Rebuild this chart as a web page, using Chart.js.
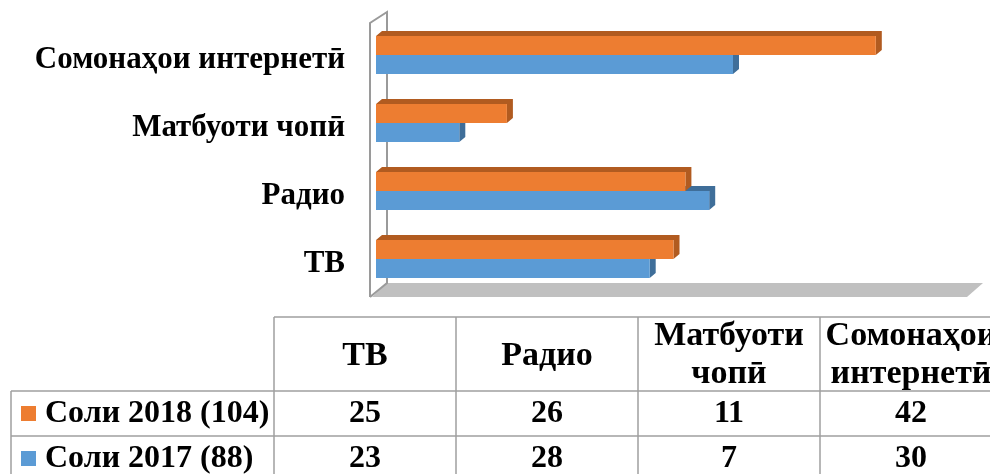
<!DOCTYPE html>
<html>
<head>
<meta charset="utf-8">
<script src="https://cdn.jsdelivr.net/npm/chart.js@4.4.1/dist/chart.umd.min.js"></script>
<style>
  html, body { margin: 0; padding: 0; background: #fff; }
  #wrap { width: 990px; height: 474px; position: relative; }
</style>
</head>
<body>
<div id="wrap"><canvas id="chart" width="990" height="474"></canvas></div>
<script>
const categories = ["ТВ", "Радио", "Матбуоти чопӣ", "Сомонаҳои интернетӣ"];
const headerLines = [["ТВ"], ["Радио"], ["Матбуоти", "чопӣ"], ["Сомонаҳои", "интернетӣ"]];
const seriesNames = ["Соли 2018 (104)", "Соли 2017 (88)"];
const values2018 = [25, 26, 11, 42];
const values2017 = [23, 28, 7, 30];

const ORANGE = '#ED7D31', ORANGE_DARK = '#B15B20';
const BLUE = '#5B9BD5', BLUE_DARK = '#3F6E99';
const FONT = '"Liberation Serif", "Times New Roman", serif';

const chartContainer = document.getElementById('chart');

// 3d-ish wall, floor and bar sides
const depthPlugin = {
    id: 'depth',
    beforeDatasetsDraw(chart) {
        const ctx = chart.ctx;
        const a = chart.chartArea;
        ctx.save();
        // floor
        ctx.fillStyle = '#C0C0C0';
        ctx.beginPath();
        ctx.moveTo(a.left - 4, a.bottom + 4);
        ctx.lineTo(a.right - 4, a.bottom + 4);
        ctx.lineTo(a.right + 12, a.bottom - 10);
        ctx.lineTo(a.left + 11, a.bottom - 10);
        ctx.closePath();
        ctx.fill();
        // wall
        ctx.strokeStyle = '#9A9A9A';
        ctx.lineWidth = 2;
        ctx.beginPath();
        ctx.moveTo(a.left - 6, a.bottom + 4);
        ctx.lineTo(a.left - 6, a.top + 2);
        ctx.lineTo(a.left + 11, a.top - 9);
        ctx.lineTo(a.left + 11, a.bottom - 10);
        ctx.lineTo(a.left - 6, a.bottom + 4);
        ctx.stroke();
        // bar depth faces, blue first so orange sits on top
        const dx = 6, dy = 5;
        [1, 0].forEach(di => {
            const meta = chart.getDatasetMeta(di);
            const dark = di === 0 ? ORANGE_DARK : BLUE_DARK;
            meta.data.forEach(el => {
                const p = el.getProps(['x', 'y', 'base', 'height'], true);
                const top = p.y - p.height / 2, bottom = p.y + p.height / 2;
                ctx.fillStyle = dark;
                ctx.beginPath();
                ctx.moveTo(p.base, top);
                ctx.lineTo(p.base + dx, top - dy);
                ctx.lineTo(p.x + dx, top - dy);
                ctx.lineTo(p.x + dx, bottom - dy);
                ctx.lineTo(p.x, bottom);
                ctx.lineTo(p.x, top);
                ctx.closePath();
                ctx.fill();
            });
        });
        ctx.restore();
    },
    afterDraw(chart) {
        // data table under the chart
        const ctx = chart.ctx;
        const cols = [274, 456, 638, 820, 1002];
        const left = 11, yTop = 317, yHead = 391, yRow1 = 436, yEnd = 480;
        ctx.save();
        ctx.strokeStyle = '#A0A0A0';
        ctx.lineWidth = 1.5;
        ctx.beginPath();
        ctx.moveTo(cols[0], yTop); ctx.lineTo(990, yTop);
        ctx.moveTo(left, yHead); ctx.lineTo(990, yHead);
        ctx.moveTo(left, yRow1); ctx.lineTo(990, yRow1);
        ctx.moveTo(left, yHead); ctx.lineTo(left, yEnd);
        cols.forEach(x => { ctx.moveTo(x, yTop); ctx.lineTo(x, yEnd); });
        ctx.stroke();

        ctx.fillStyle = '#000';
        ctx.font = 'bold 34px ' + FONT;
        ctx.textAlign = 'center';
        ctx.textBaseline = 'middle';
        headerLines.forEach((lines, i) => {
            const cx = (cols[i] + cols[i + 1]) / 2;
            if (lines.length === 1) ctx.fillText(lines[0], cx, 356);
            else {
                ctx.fillText(lines[0], cx, 336);
                ctx.fillText(lines[1], cx, 374);
            }
        });
        ctx.font = 'bold 32px ' + FONT;
        const rows = [values2018, values2017];
        const rowY = [414, 459];
        const colors = [ORANGE, BLUE];
        rows.forEach((vals, r) => {
            ctx.fillStyle = colors[r];
            ctx.fillRect(21, rowY[r] - 8, 15, 15);
            ctx.fillStyle = '#000';
            ctx.textAlign = 'left';
            ctx.fillText(seriesNames[r], 45, rowY[r]);
            ctx.textAlign = 'center';
            vals.forEach((v, i) => {
                ctx.fillText(String(v), (cols[i] + cols[i + 1]) / 2, rowY[r]);
            });
        });
        ctx.restore();
    }
};

var chart = new Chart(chartContainer, {
    type: 'bar',
    data: {
        labels: categories,
        datasets: [
            { label: seriesNames[0], data: values2018, backgroundColor: ORANGE },
            { label: seriesNames[1], data: values2017, backgroundColor: BLUE }
        ]
    },
    options: {
        indexAxis: 'y',
        responsive: false,
        animation: false,
        layout: { padding: { left: 0, top: 21, right: 19, bottom: 181 } },
        datasets: { bar: { categoryPercentage: 38 / 68, barPercentage: 1 } },
        scales: {
            x: { display: false, min: 0, max: 50 },
            y: {
                reverse: true,
                border: { display: false },
                grid: { display: false, drawTicks: false },
                afterFit: s => {
                    s.width = 376;
                    s.paddingTop = 0;
                    s.paddingBottom = 0;
                },
                ticks: {
                    padding: 31,
                    color: '#000',
                    font: { family: FONT, size: 31, weight: 'bold' },
                    labelOffset: 5
                }
            }
        },
        plugins: { legend: { display: false }, tooltip: { enabled: false } }
    },
    plugins: [depthPlugin]
});
</script>
</body>
</html>
